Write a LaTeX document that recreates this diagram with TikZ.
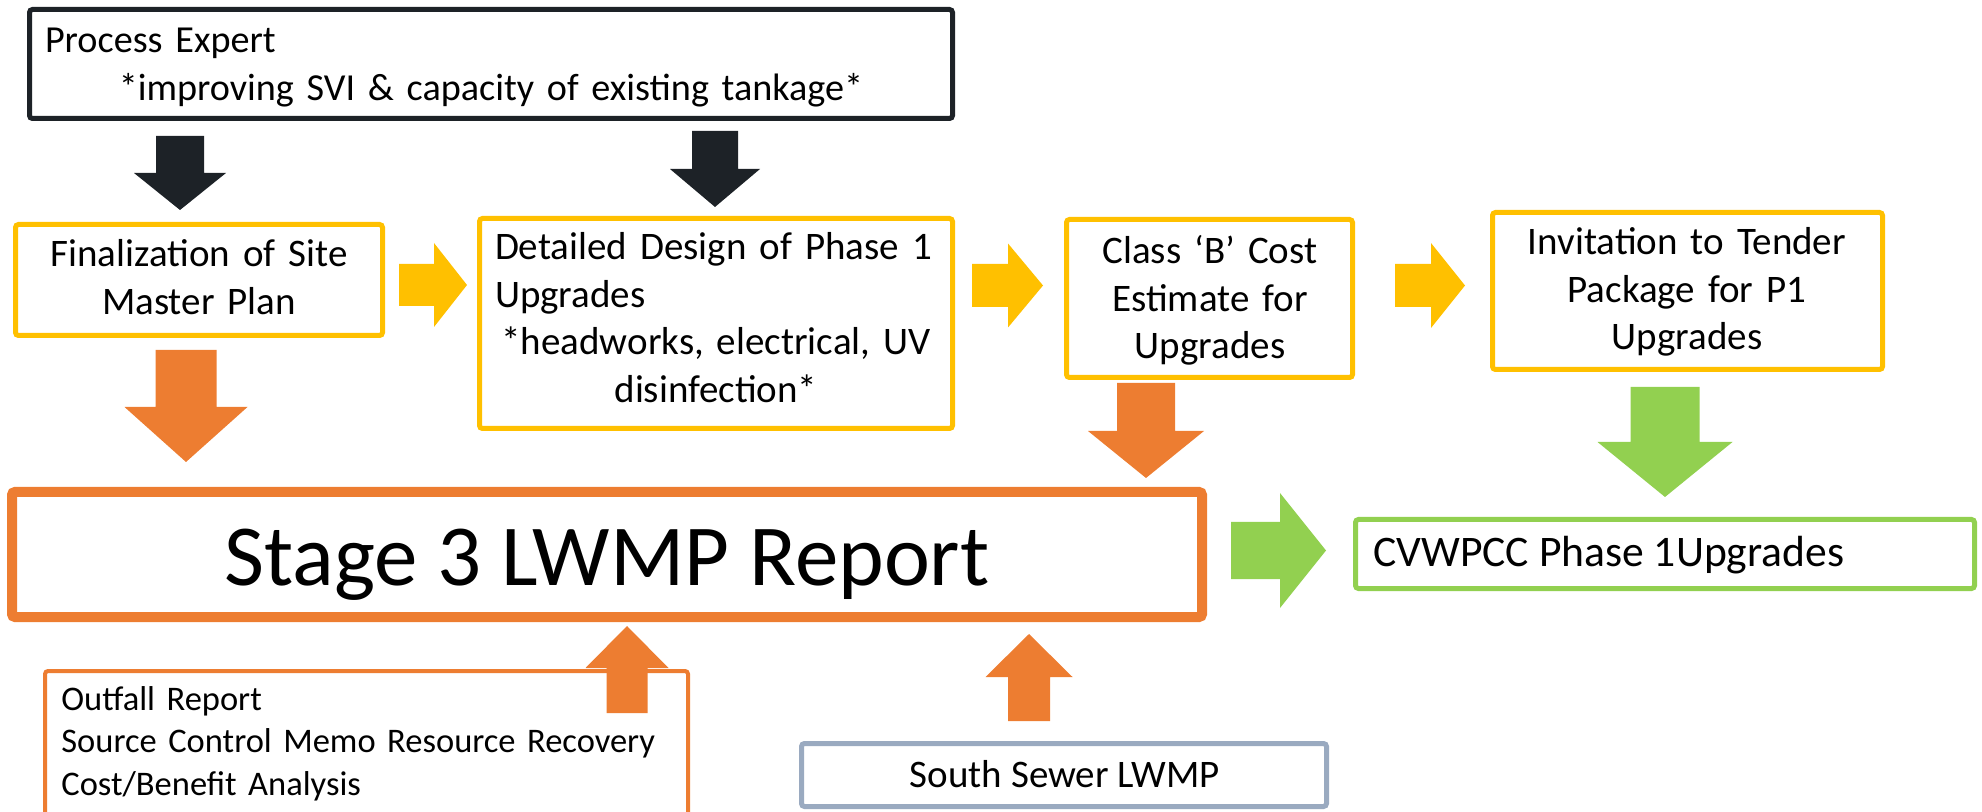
\documentclass[tikz,border=0pt]{standalone}
\usepackage{fontspec}
\setmainfont{Carlito}
\usepackage{tikz}
\definecolor{dark}{HTML}{1D2227}
\definecolor{gold}{HTML}{FFC000}
\definecolor{tang}{HTML}{ED7D31}
\definecolor{lime}{HTML}{92D050}
\definecolor{slate}{HTML}{9AAAC0}
\def\bodyfont{\fontsize{19.5}{23.75}\selectfont}
\def\BArrow#1#2#3#4#5#6#7{\fill [#1,shift={#2},rotate=#3] (0,-#6) -- (#4-#5,-#6) -- (#4-#5,-#7) -- (#4,0) -- (#4-#5,#7) -- (#4-#5,#6) -- (0,#6) -- cycle;}
\tikzset{
  panel/.style={draw,fill=white,line width=2.5pt,rounded corners=1.5pt,inner sep=0pt},
  lbl/.style={inner sep=0pt,anchor=base,font=\bodyfont}
}

\begin{document}
\begin{tikzpicture}[x=0.5pt,y=-0.5pt]
  \clip (0,0) rectangle (1982,812);
  \node [panel,draw=dark,minimum width=461.5pt,minimum height=54.5pt] (expert) at (491,64) {};
  \node [panel,draw=gold,minimum width=183.5pt,minimum height=55.5pt] (final) at (199,280) {};
  \node [panel,draw=gold,minimum width=236.5pt,minimum height=105pt] (design) at (716,323.5) {};
  \node [panel,draw=gold,minimum width=143pt,minimum height=79pt] (classb) at (1209.5,298.5) {};
  \node [panel,draw=gold,minimum width=195pt,minimum height=78.5pt] (tender) at (1687.5,291) {};
  \node [panel,draw=tang,line width=5pt,minimum width=595pt,minimum height=62.5pt] (report) at (607,554.5) {};
  \node [panel,draw=lime,minimum width=309.5pt,minimum height=34.5pt] (cvwpcc) at (1665,554) {};
  \node [panel,draw=tang,line width=2pt,minimum width=321.5pt,minimum height=84.5pt] (outfall) at (366.5,755.5) {};
  \node [panel,draw=slate,minimum width=262.5pt,minimum height=31.5pt] (sewer) at (1064,775) {};

  \node [lbl,text width=446pt,font=\fontsize{19.1}{23.75}\selectfont] (expert-txt) at (491,53)
    {{\raggedright Process Expert\par}\centering *improving SVI \& capacity of existing tankage*\par};
  \node [lbl,text width=180pt,align=center] (final-txt) at (199,267) {Finalization of Site\\Master Plan};
  \node [lbl,text width=221pt] (design-txt) at (716,260)
    {{\raggedright Detailed Design of Phase 1\\Upgrades\par}\centering *headworks, electrical, UV\\disinfection*\par};
  \node [lbl,text width=140pt,align=center] (classb-txt) at (1210,264) {Class `B' Cost\\Estimate for\\Upgrades};
  \node [lbl,text width=190pt,align=center] (tender-txt) at (1687,255) {Invitation to Tender\\Package for P1\\Upgrades};
  \node [lbl,font=\fontsize{43.5}{52}\selectfont] (report-txt) at (607,585) {Stage 3 LWMP Report};
  \node [lbl,anchor=base west,font=\fontsize{21.8}{26}\selectfont] (cvwpcc-txt) at (1373,567) {CVWPCC Phase 1Upgrades};
  \node [lbl,anchor=base west,text width=320pt,align=left,font=\fontsize{17.25}{21.25}\selectfont] (outfall-txt) at (61,710)
    {Outfall Report\\Source Control Memo Resource Recovery\\Cost/Benefit Analysis};
  \node [lbl] (sewer-txt) at (1065,787) {South Sewer LWMP};

  \BArrow{dark}{(180,136)}{-90}{74}{37}{24}{46}
  \BArrow{dark}{(715,131)}{-90}{76}{38}{23}{45}
  \BArrow{gold}{(399,285)}{0}{68}{33}{21}{42}
  \BArrow{gold}{(972,285.5)}{0}{71}{35}{21.5}{42}
  \BArrow{gold}{(1395,285.5)}{0}{70}{34}{21.5}{42.5}
  \BArrow{tang}{(186,350)}{-90}{112}{55}{30.5}{61.5}
  \BArrow{tang}{(1146,383)}{-90}{95}{47}{29}{58}
  \BArrow{lime}{(1665,387)}{-90}{110}{55}{34.5}{67.5}
  \BArrow{lime}{(1231,550.5)}{0}{95}{46}{28.5}{57.5}
  \BArrow{tang}{(627,713)}{90}{87}{42}{20.5}{41.5}
  \BArrow{tang}{(1029,721)}{90}{87}{43}{21}{43.5}
\end{tikzpicture}
\end{document}
